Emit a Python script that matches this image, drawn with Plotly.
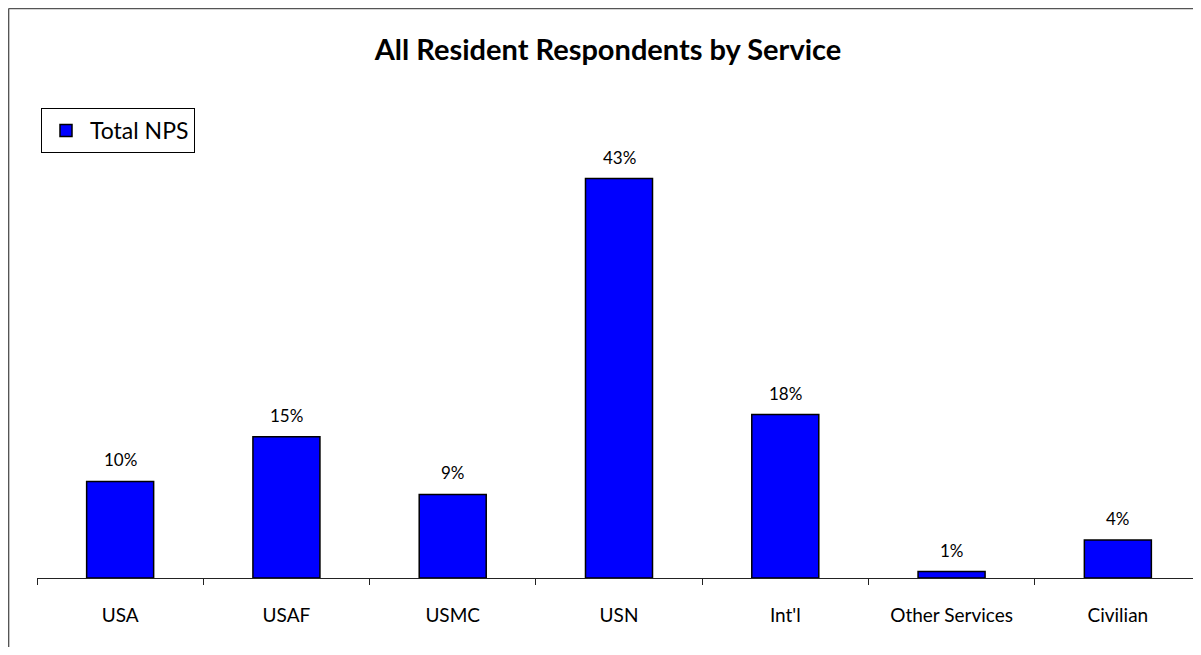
import plotly.graph_objects as go

categories = ["USA", "USAF", "USMC", "USN", "Int'l", "Other Services", "Civilian"]
values = [10.4, 15.2, 9.0, 43.0, 17.6, 0.7, 4.1]
series_name = "Total NPS"

FONT = "Lato, 'Open Sans', sans-serif"
W, H = 1200, 639
L, R, T, B = 29, 7, 152, 69
PW, PH = W - L - R, H - T - B

fig = go.Figure()
fig.add_trace(go.Bar(
    x=categories, y=values, name=series_name,
    marker=dict(color="#0000FF", line=dict(color="black", width=1.5)),
    showlegend=True,
))

annotations = [
    dict(x=c, y=v, xref="x", yref="y", text=f"{v:.0f}%", showarrow=False,
         yanchor="bottom", yshift=9, font=dict(family=FONT, size=17, color="black"))
    for c, v in zip(categories, values)
]

fig.update_layout(
    width=W, height=H,
    margin=dict(l=L, r=R, t=T, b=B),
    paper_bgcolor="white", plot_bgcolor="white",
    bargap=0.597,
    title=dict(text="<b>All Resident Respondents by Service</b>", x=0.5, xanchor="center",
               y=1 - 42 / H, yanchor="middle",
               font=dict(family=FONT, size=29, color="black")),
    font=dict(family=FONT, size=18, color="black"),
    showlegend=True,
    legend=dict(x=4 / PW, y=(PH + T - 100) / PH, xanchor="left", yanchor="top",
                bordercolor="black", borderwidth=1, bgcolor="white",
                font=dict(family=FONT, size=23, color="black"),
                itemwidth=38, tracegroupgap=0),
    xaxis=dict(showline=True, linecolor="#222222", linewidth=1,
               ticks="outside", tickson="boundaries", ticklen=6, tickcolor="#222222",
               tickfont=dict(family=FONT, size=19, color="black"), showgrid=False,
               ticklabelstandoff=20),
    yaxis=dict(range=[0, 45], visible=False, showgrid=False, zeroline=False),
    annotations=annotations,
    shapes=[
        # top and left frame lines of the chart area
        dict(type="line", xref="paper", yref="paper",
             x0=(0.6 - L) / PW, x1=(W - L) / PW,
             y0=(PH + T - 0.6) / PH, y1=(PH + T - 0.6) / PH,
             line=dict(color="#555555", width=1.5)),
        dict(type="line", xref="paper", yref="paper",
             x0=(0.6 - L) / PW, x1=(0.6 - L) / PW,
             y0=-B / PH, y1=(PH + T - 0.6) / PH,
             line=dict(color="#555555", width=1.5)),
    ],
)

fig.write_html("out.html")
